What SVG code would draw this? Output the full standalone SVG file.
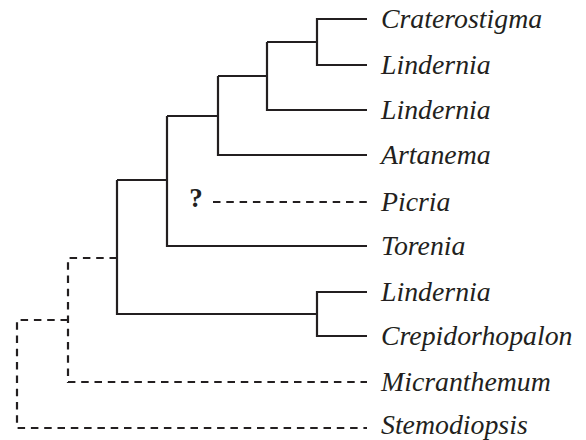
<svg xmlns="http://www.w3.org/2000/svg" width="586" height="440" viewBox="0 0 586 440">
<style>
.tx{font-family:"Liberation Serif","Times New Roman",serif;font-style:italic;font-size:27.8px;fill:#231f20}
.q{font-family:"Liberation Serif","Times New Roman",serif;font-weight:bold;font-size:27px;fill:#231f20}
.br{fill:none;stroke:#231f20;stroke-width:2.2;stroke-linejoin:miter;stroke-linecap:butt}
.da{stroke-dasharray:7.5 5.8}
</style>
<rect width="586" height="440" fill="#fff"/>
<g id="connectors">
<path class="br" d="M367,19 H317 V65 H367 M317,42 H267 M267,42 V110 H367 M267,76 H218 M218,76 V155 H367 M218,116 H167 M167,116 V246 H367 M167,180 H117 M117,180 V314 H317 M367,292 H317 V336 H367"/>
<path class="br da" d="M213,202 H367"/>
<path class="br da" d="M117,258 H68 V382 H367"/>
<path class="br da" d="M68,320 H17 V428 H367"/>
</g>
<g id="craterostigma"><text class="tx" x="381" y="28">Craterostigma</text></g>
<g id="lindernia1"><text class="tx" x="381" y="74">Lindernia</text></g>
<g id="lindernia2"><text class="tx" x="381" y="119">Lindernia</text></g>
<g id="artanema"><text class="tx" x="381" y="164">Artanema</text></g>
<g id="picria"><text class="tx" x="381" y="211">Picria</text><text class="q" x="196" y="207" text-anchor="middle">?</text></g>
<g id="torenia"><text class="tx" x="381" y="255">Torenia</text></g>
<g id="lindernia3"><text class="tx" x="381" y="301">Lindernia</text></g>
<g id="crepidorhopalon"><text class="tx" x="381" y="345">Crepidorhopalon</text></g>
<g id="micranthemum"><text class="tx" x="381" y="391">Micranthemum</text></g>
<g id="stemodiopsis"><text class="tx" x="381" y="434">Stemodiopsis</text></g>
</svg>
